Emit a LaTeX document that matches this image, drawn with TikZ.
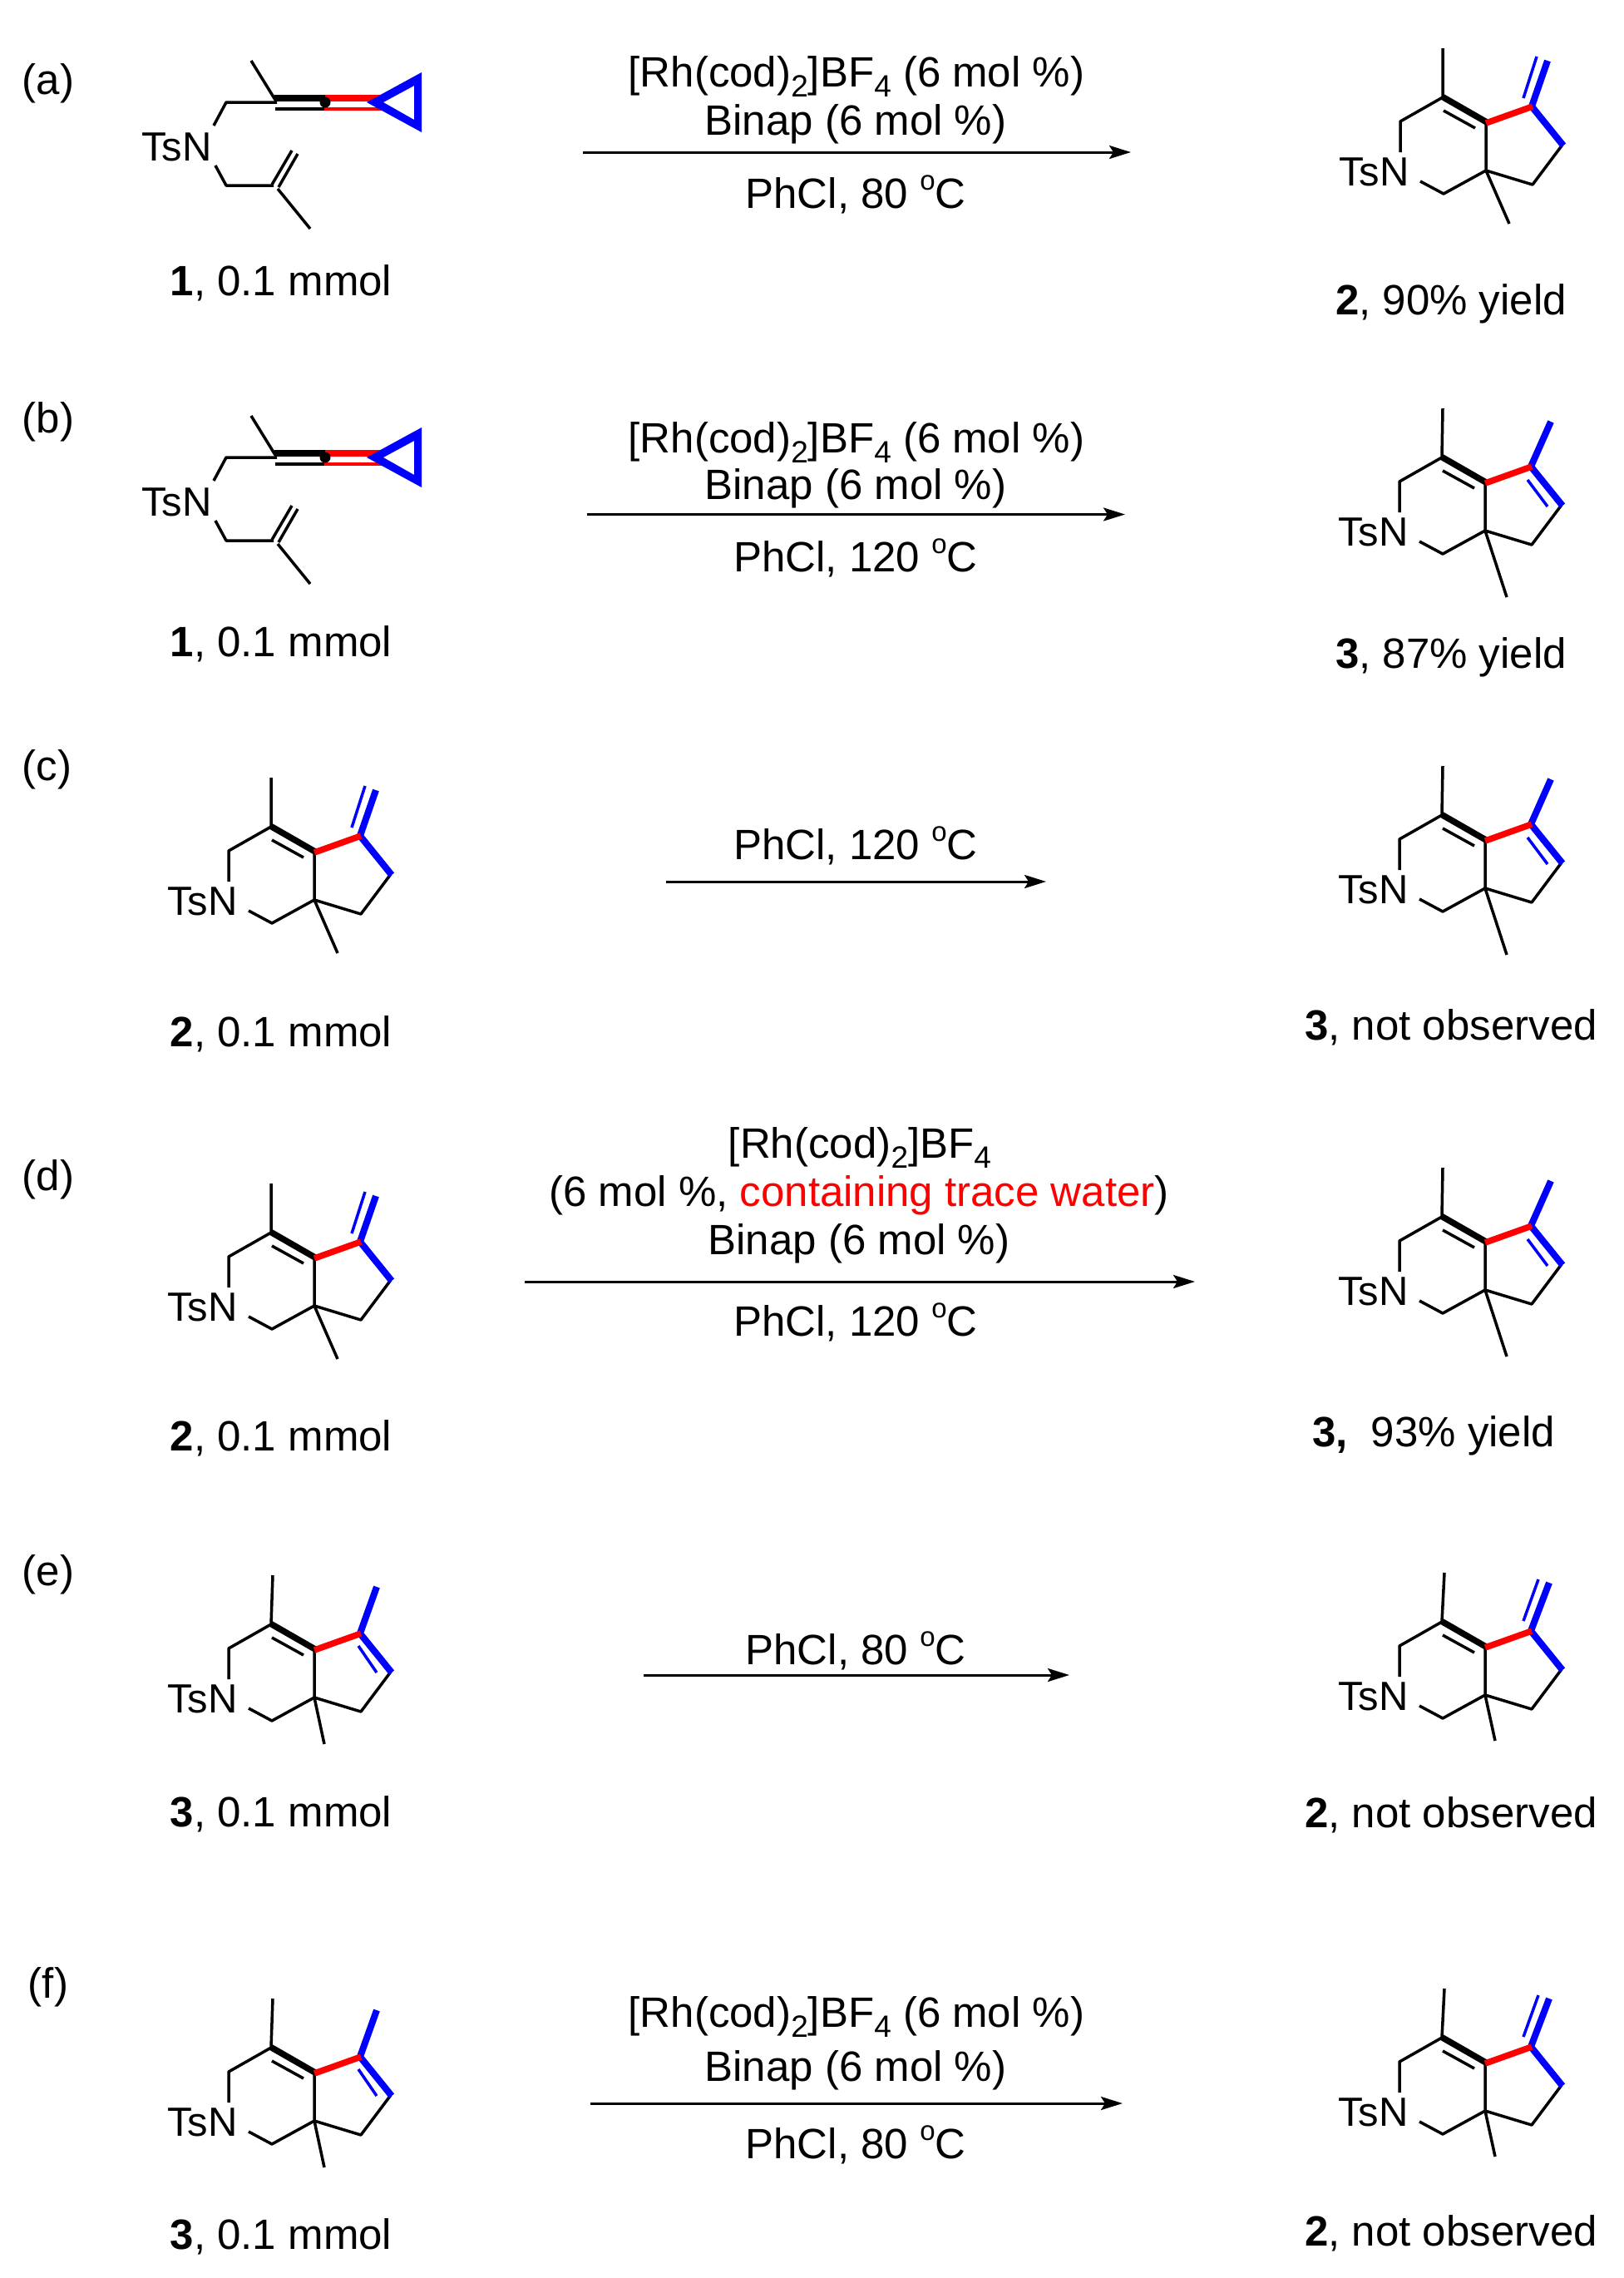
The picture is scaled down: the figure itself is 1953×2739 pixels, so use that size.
\documentclass[tikz,border=0pt]{standalone}
\usepackage{fontspec}
\setmainfont{Liberation Sans}
\usetikzlibrary{arrows.meta}
\tikzset{
  txt/.style={anchor=base, inner sep=0pt, outer sep=0pt, font=\fontsize{51}{60}\selectfont},
  tsn/.style={anchor=base west, inner sep=0pt, outer sep=0pt, font=\fontsize{49}{60}\selectfont},
  bond/.style={line width=3.5pt, black, line cap=butt, line join=round},
  thickbond/.style={line width=7.5pt, black, line cap=butt},
  redbond/.style={line width=7.5pt, red, line cap=butt},
  bluebond/.style={line width=8pt, blue, line cap=butt, line join=miter},
  bluethin/.style={line width=3.5pt, blue, line cap=butt},
  rxn/.style={line width=3pt, black, -{Stealth[length=26pt,width=16pt,inset=5pt]}}
}
\newcommand{\subs}[1]{\raisebox{-.24em}{\fontsize{37}{37}\selectfont #1}}
\newcommand{\degC}{\raisebox{.42em}{\fontsize{33}{33}\selectfont o}C}
% ring: name, x, y, methyl top, quaternary methyl end, blue end, thin start, thin end
\newcommand{\ringmol}[8]{%
  \begin{scope}[shift={(#2,#3)}]
    \node[tsn] (#1) at (-125,106) {TsN};
    \draw[bond] (-51,66) -- (-51,29) -- (0,0) -- (#4);
    \draw[bond] (-27,101) -- (1,116) -- (52,88) -- (52,30);
    \draw[bond] (#5) -- (52,88) -- (108,105) -- (144,57);
    \draw[bond] (1,16) -- (39,37);
    \draw[thickbond] (-1,-1) -- (53,30);
    \draw[bluethin] (#7) -- (#8);
    \draw[bluebond] (#6) -- (107,11) -- (145,58);
    \draw[redbond] (52,31) -- (108,11);
  \end{scope}}
\newcommand{\twoA}[3]{\ringmol{#1}{#2}{#3}{0,-59}{80,152}{126,-44}{97,1}{113,-49}}
\newcommand{\threeA}[3]{\ringmol{#1}{#2}{#3}{1,-59}{78,168}{131,-43}{103,27}{127,59}}
\newcommand{\threeB}[3]{\ringmol{#1}{#2}{#3}{2,-59}{64,144}{127,-45}{105,26}{127,58}}
\newcommand{\twoB}[3]{\ringmol{#1}{#2}{#3}{3,-59}{64,143}{129,-47}{98,-1}{116,-51}}
% enyne substrate 1
\newcommand{\enyne}[2]{%
  \begin{scope}[shift={(-3,#2)}]
    \node[tsn] (#1) at (173,193) {TsN};
    \draw[bond] (305,73) -- (334,120);
    \draw[bond] (336,123) -- (275,123) -- (260,151);
    \draw[bond] (262,199) -- (275,223) -- (332,223);
    \draw[bond] (337,227) -- (376,275);
    \draw[bond] (330,222) -- (354,181);
    \draw[bond] (338,225) -- (361,185);
    \draw[bond] (334,131) -- (394,131);
    \draw[redbond] (393,118) -- (462,118);
    \draw[red, line width=3.5pt] (393,131) -- (462,131);
    \draw[thickbond] (333,118) -- (394,118);
    \fill[black] (394,123) circle (6.5pt);
    \fill[blue, even odd rule] (444,123) -- (510,87) -- (510,159) -- cycle
       (464,123) -- (501,144) -- (501,103) -- cycle;
  \end{scope}}
\begin{document}
\begin{tikzpicture}[x=1pt,y=-1pt]
\useasboundingbox (0,0) rectangle (1953,2739);
% row labels
\node[txt,anchor=base west] (la) at (27,113) {(a)};
\node[txt,anchor=base west] (lb) at (27,520) {(b)};
\node[txt,anchor=base west] (lc) at (27,938) {(c)};
\node[txt,anchor=base west] (ld) at (27,1431) {(d)};
\node[txt,anchor=base west] (le) at (27,1906) {(e)};
\node[txt,anchor=base west] (lf) at (34,2402) {(f)};
% molecules
\enyne{ma1}{0}
\enyne{mb1}{427}
\twoA{ma2}{1735}{117}
\threeA{mb3}{1734}{550}
\twoA{mc2}{326}{994}
\threeA{mc3}{1734}{980}
\twoA{md2}{326}{1482}
\threeA{md3}{1734}{1463}
\threeB{me3}{326}{1953}
\twoB{me2}{1734}{1950}
\threeB{mf3}{326}{2462}
\twoB{mf2}{1734}{2450}
% compound labels
\node[txt] (ca1) at (338,355) {\textbf{1}, 0.1 mmol};
\node[txt] (cb1) at (338,789) {\textbf{1}, 0.1 mmol};
\node[txt] (cc2) at (338,1258) {\textbf{2}, 0.1 mmol};
\node[txt] (cd2) at (338,1744) {\textbf{2}, 0.1 mmol};
\node[txt] (ce3) at (338,2196) {\textbf{3}, 0.1 mmol};
\node[txt] (cf3) at (338,2704) {\textbf{3}, 0.1 mmol};
\node[txt] (ca2) at (1745,378) {\textbf{2}, 90\% yield};
\node[txt] (cb3) at (1745,803) {\textbf{3}, 87\% yield};
\node[txt] (cc3) at (1745,1250) {\textbf{3}, not observed};
\node[txt] (cd3) at (1724,1739) {\textbf{3,}\ \ 93\% yield};
\node[txt] (ce2) at (1745,2197) {\textbf{2}, not observed};
\node[txt] (cf2) at (1745,2700) {\textbf{2}, not observed};
% conditions (a)
\node[txt] (a1) at (1030,104) {[Rh(cod)\subs{2}]BF\subs{4} (6 mol \%)};
\node[txt] (a2) at (1029,162) {Binap (6 mol \%)};
\node[txt] (a3) at (1029,250) {PhCl, 80 \degC};
\coordinate (as) at (701,183); \coordinate (ae) at (1360,183);
\draw[rxn] (as) -- (ae);
% conditions (b)
\node[txt] (b1) at (1030,544) {[Rh(cod)\subs{2}]BF\subs{4} (6 mol \%)};
\node[txt] (b2) at (1029,600) {Binap (6 mol \%)};
\node[txt] (b3) at (1029,687) {PhCl, 120 \degC};
\coordinate (bs) at (706,618.5); \coordinate (be) at (1353,618.5);
\draw[rxn] (bs) -- (be);
% conditions (c)
\node[txt] (c1) at (1029,1033) {PhCl, 120 \degC};
\coordinate (cs) at (801,1060); \coordinate (ce) at (1258,1060);
\draw[rxn] (cs) -- (ce);
% conditions (d)
\node[txt] (d1) at (1034,1392) {[Rh(cod)\subs{2}]BF\subs{4}};
\node[txt] (d2) at (1033,1450) {(6 mol \%, \textcolor{red}{containing trace water})};
\node[txt] (d3) at (1033,1508) {Binap (6 mol \%)};
\node[txt] (d4) at (1029,1606) {PhCl, 120 \degC};
\coordinate (ds) at (631,1541); \coordinate (de) at (1437,1541);
\draw[rxn] (ds) -- (de);
% conditions (e)
\node[txt] (e1) at (1029,2001) {PhCl, 80 \degC};
\coordinate (es) at (774,2014); \coordinate (ee) at (1286,2014);
\draw[rxn] (es) -- (ee);
% conditions (f)
\node[txt] (f1) at (1030,2437) {[Rh(cod)\subs{2}]BF\subs{4} (6 mol \%)};
\node[txt] (f2) at (1029,2502) {Binap (6 mol \%)};
\node[txt] (f3) at (1029,2595) {PhCl, 80 \degC};
\coordinate (fs) at (710,2529); \coordinate (fe) at (1350,2529);
\draw[rxn] (fs) -- (fe);
\end{tikzpicture}
\end{document}
